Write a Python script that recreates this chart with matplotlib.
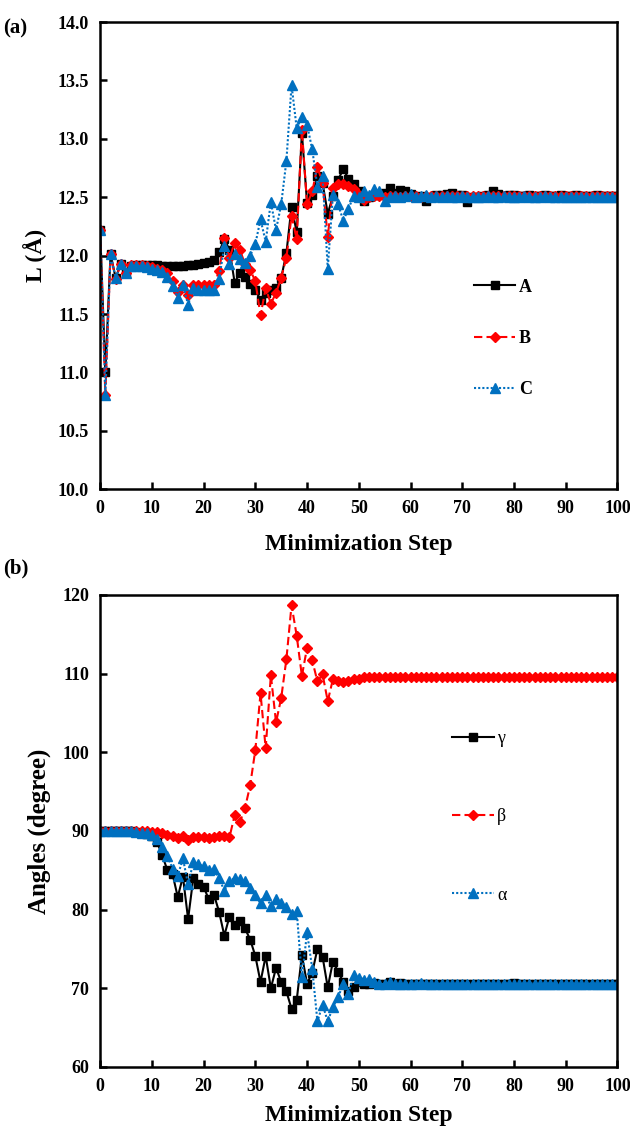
import matplotlib
matplotlib.use("Agg")
import matplotlib.pyplot as plt
import numpy as np

plt.rcParams['font.family'] = ['Liberation Serif', 'DejaVu Serif']
plt.rcParams['font.weight'] = 'bold'

steps = list(range(101))

L_A = [12.22, 11.00, 12.01, 11.81, 11.93, 11.85, 11.91, 11.92, 11.92, 11.92,
       11.92, 11.92, 11.91, 11.91, 11.91, 11.91, 11.91, 11.92, 11.92, 11.93,
       11.94, 11.95, 11.96, 12.03, 12.14, 12.05, 11.77, 11.85, 11.82, 11.76,
       11.71, 11.62, 11.68, 11.71, 11.72, 11.81, 12.02, 12.42, 12.20, 13.05,
       12.45, 12.52, 12.68, 12.62, 12.36, 12.51, 12.65, 12.74, 12.66, 12.61,
       12.55, 12.47, 12.50, 12.52, 12.52, 12.54, 12.58, 12.54, 12.56, 12.55,
       12.53, 12.50, 12.51, 12.47, 12.50, 12.52, 12.52, 12.53, 12.54, 12.52,
       12.52, 12.46, 12.50, 12.50, 12.51, 12.52, 12.55, 12.53, 12.51, 12.52,
       12.52, 12.51, 12.51, 12.52, 12.51, 12.51, 12.52, 12.51, 12.51, 12.52,
       12.51, 12.51, 12.52, 12.51, 12.51, 12.51, 12.52, 12.51, 12.51, 12.51,
       12.51]
L_B = [12.22, 10.81, 12.01, 11.80, 11.93, 11.85, 11.92, 11.92, 11.92, 11.91,
       11.90, 11.89, 11.88, 11.85, 11.78, 11.69, 11.75, 11.66, 11.75, 11.75,
       11.75, 11.75, 11.75, 11.87, 12.15, 11.98, 12.11, 12.05, 11.93, 11.88,
       11.78, 11.49, 11.72, 11.59, 11.68, 11.81, 11.98, 12.34, 12.14, 13.08,
       12.44, 12.55, 12.76, 12.62, 12.16, 12.58, 12.61, 12.61, 12.60, 12.57,
       12.52, 12.48, 12.50, 12.51, 12.51, 12.50, 12.51, 12.51, 12.50, 12.51,
       12.51, 12.51, 12.50, 12.51, 12.51, 12.51, 12.51, 12.51, 12.51, 12.51,
       12.51, 12.51, 12.51, 12.51, 12.51, 12.51, 12.51, 12.51, 12.51, 12.51,
       12.51, 12.51, 12.51, 12.51, 12.51, 12.51, 12.51, 12.51, 12.51, 12.51,
       12.51, 12.51, 12.51, 12.51, 12.51, 12.51, 12.51, 12.51, 12.51, 12.51,
       12.51]
L_C = [12.22, 10.81, 12.01, 11.81, 11.93, 11.85, 11.91, 11.91, 11.91, 11.90,
       11.89, 11.88, 11.86, 11.82, 11.74, 11.64, 11.75, 11.58, 11.72, 11.71,
       11.71, 11.71, 11.71, 11.80, 12.08, 11.93, 12.01, 11.97, 11.94, 12.00,
       12.10, 12.31, 12.12, 12.46, 12.22, 12.44, 12.81, 13.46, 13.09, 13.19,
       13.12, 12.91, 12.59, 12.68, 11.89, 12.52, 12.44, 12.30, 12.40, 12.51,
       12.50, 12.55, 12.52, 12.57, 12.55, 12.47, 12.50, 12.51, 12.50, 12.51,
       12.53, 12.50, 12.51, 12.52, 12.50, 12.51, 12.50, 12.51, 12.50, 12.50,
       12.51, 12.50, 12.50, 12.50, 12.50, 12.51, 12.50, 12.50, 12.51, 12.50,
       12.50, 12.50, 12.51, 12.50, 12.50, 12.50, 12.51, 12.50, 12.50, 12.50,
       12.50, 12.50, 12.50, 12.50, 12.50, 12.50, 12.50, 12.50, 12.50, 12.50,
       12.50]

ang_gamma = [90.0, 90.0, 90.0, 90.0, 90.0, 90.0, 90.0, 89.9, 89.8, 89.6,
             89.3, 88.6, 86.9, 85.0, 84.5, 81.6, 84.2, 78.8, 84.0, 83.2,
             82.9, 81.3, 81.9, 79.7, 76.7, 79.1, 78.0, 78.6, 77.6, 76.2,
             74.1, 70.8, 74.1, 70.0, 72.6, 70.8, 69.6, 67.4, 68.5, 74.2,
             70.6, 72.0, 75.0, 74.0, 70.1, 73.4, 72.1, 70.8, 69.6, 70.1,
             70.8, 70.5, 70.6, 70.7, 70.5, 70.6, 70.8, 70.6, 70.7, 70.5,
             70.6, 70.6, 70.5, 70.6, 70.6, 70.6, 70.6, 70.6, 70.6, 70.6,
             70.6, 70.6, 70.6, 70.6, 70.6, 70.6, 70.6, 70.6, 70.6, 70.6,
             70.7, 70.6, 70.6, 70.6, 70.6, 70.6, 70.6, 70.6, 70.6, 70.6,
             70.6, 70.6, 70.6, 70.6, 70.6, 70.6, 70.6, 70.6, 70.6, 70.6,
             70.6]
ang_beta = [90.0, 90.0, 90.0, 90.0, 90.0, 90.0, 90.0, 90.0, 90.0, 90.0,
            89.9, 89.9, 89.7, 89.5, 89.3, 89.1, 89.3, 88.8, 89.2, 89.2,
            89.2, 89.1, 89.2, 89.3, 89.4, 89.2, 92.0, 91.1, 92.9, 95.8,
            100.3, 107.5, 100.5, 109.8, 103.8, 106.9, 111.8, 118.7, 114.8, 109.7,
            113.3, 111.7, 109.0, 109.9, 106.5, 109.3, 109.1, 108.9, 109.1, 109.3,
            109.3, 109.6, 109.6, 109.6, 109.6, 109.6, 109.6, 109.6, 109.6, 109.6,
            109.6, 109.6, 109.6, 109.6, 109.6, 109.6, 109.6, 109.6, 109.6, 109.6,
            109.6, 109.6, 109.6, 109.6, 109.6, 109.6, 109.6, 109.6, 109.6, 109.6,
            109.6, 109.6, 109.6, 109.6, 109.6, 109.6, 109.6, 109.6, 109.6, 109.6,
            109.6, 109.6, 109.6, 109.6, 109.6, 109.6, 109.6, 109.6, 109.6, 109.6,
            109.6]
ang_alpha = [90.0, 90.0, 90.0, 90.0, 90.0, 90.0, 90.0, 89.9, 89.8, 89.7,
             89.5, 89.0, 88.0, 86.8, 85.2, 84.3, 86.5, 83.2, 86.0, 85.8,
             85.5, 85.0, 85.1, 84.0, 82.4, 83.7, 84.0, 83.9, 83.6, 82.7,
             81.8, 80.8, 81.9, 80.4, 81.4, 80.8, 80.3, 79.5, 79.8, 71.4,
             77.1, 72.5, 65.8, 67.9, 65.8, 67.6, 68.9, 70.5, 69.3, 71.7,
             71.3, 71.0, 71.2, 70.8, 70.6, 70.5, 70.8, 70.6, 70.5, 70.6,
             70.6, 70.5, 70.7, 70.6, 70.6, 70.6, 70.6, 70.6, 70.6, 70.6,
             70.6, 70.6, 70.6, 70.6, 70.6, 70.6, 70.6, 70.6, 70.6, 70.6,
             70.6, 70.6, 70.6, 70.6, 70.6, 70.6, 70.6, 70.6, 70.6, 70.6,
             70.6, 70.6, 70.6, 70.6, 70.6, 70.6, 70.6, 70.6, 70.6, 70.6,
             70.6]

BLUE = '#0070C0'
RED = '#FF0000'

fig = plt.figure(figsize=(6.3, 11.3), dpi=100)
ax1 = fig.add_axes([0.159, 0.567, 0.821, 0.4135])
ax2 = fig.add_axes([0.159, 0.0558, 0.821, 0.4177])

lw = 1.5
sty_A = dict(color='black', ls='-', lw=lw, marker='s', ms=6)
sty_B = dict(color=RED, ls=(0, (4, 2)), lw=lw, marker='D', ms=5)
sty_C = dict(color=BLUE, ls=(0, (1, 1)), lw=lw, marker='^', ms=7)

ax1.plot(steps, L_A, label='A', **sty_A)
ax1.plot(steps, L_B, label='B', **sty_B)
ax1.plot(steps, L_C, label='C', **sty_C)

ax2.plot(steps, ang_gamma, label='γ', **sty_A)
ax2.plot(steps, ang_beta, label='β', **sty_B)
ax2.plot(steps, ang_alpha, label='α', **sty_C)

for ax, lp in ((ax1, 12), (ax2, 7)):
    ax.set_xlim(0, 100)
    ax.set_xticks(range(0, 101, 10))
    for sp in ax.spines.values():
        sp.set_linewidth(1.8)
        sp.set_color('black')
    ax.tick_params(direction='in', length=5, width=1.8, labelsize=13, pad=8)
    for lab in ax.get_xticklabels() + ax.get_yticklabels():
        lab.set_fontweight('bold')
    ax.set_xlabel('Minimization Step', fontsize=17, fontweight='bold', labelpad=lp)

ax1.set_ylim(10, 14)
ax1.set_yticks(np.arange(10, 14.01, 0.5))
ax1.set_yticklabels([f'{v:.1f}' for v in np.arange(10, 14.01, 0.5)], fontweight='bold')
ax1.set_ylabel('L (Å)', fontsize=17, fontweight='bold', labelpad=8)

ax2.set_ylim(60, 120)
ax2.set_yticks(range(60, 121, 10))
ax2.set_ylabel('Angles (degree)', fontsize=18, fontweight='bold', labelpad=8)

leg1 = ax1.legend(loc='center left', bbox_to_anchor=(0.705, 0.323), frameon=False,
                  handlelength=2.3, handletextpad=0.2, labelspacing=1.9, borderpad=0,
                  prop={'family': 'Liberation Serif', 'weight': 'bold', 'size': 13})
leg2 = ax2.legend(loc='center left', bbox_to_anchor=(0.663, 0.53), frameon=False,
                  handlelength=2.3, handletextpad=0.2, labelspacing=3.4, borderpad=0,
                  prop={'family': 'Liberation Serif', 'weight': 'normal', 'size': 13})

fig.text(0.005, 0.975, '(a)', fontsize=15, fontweight='bold', ha='left', va='center')
fig.text(0.005, 0.497, '(b)', fontsize=15, fontweight='bold', ha='left', va='center')

fig.savefig('out.png', dpi=100)
